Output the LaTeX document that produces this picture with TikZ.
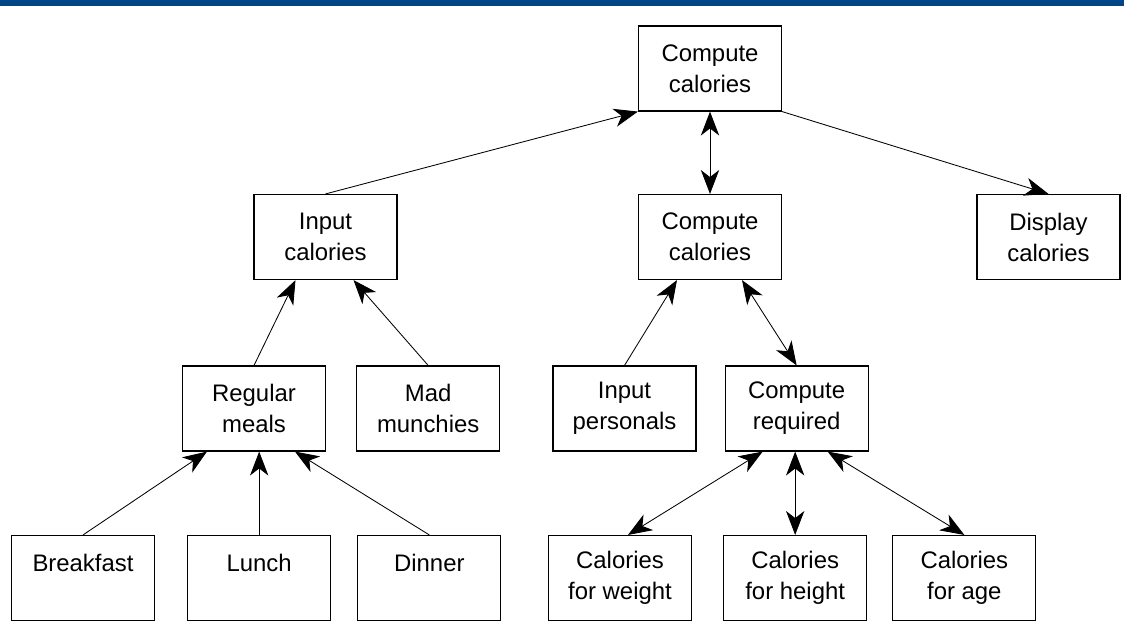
\documentclass[tikz,border=0pt]{standalone}
\usepackage{fontspec}
\setmainfont{Liberation Sans}
\usepackage{tikz}
\usetikzlibrary{
	positioning,
	arrows.meta
}
\definecolor{barblue}{RGB}{0,70,135}

\begin{document}
\begin{tikzpicture}[
				x=0.025cm, y=-0.025cm,
				block/.style={
					draw,
					rectangle,
					line width=0.8pt,
					minimum width=3.575cm,
					minimum height=2.125cm,
					inner sep=0pt,
					align=center,
					font=\fontsize{17}{22}\selectfont
				},
				arrow/.style={
					-{Stealth[length=17pt,width=13pt,inset=5pt]},
					line width=0.6pt
				},
				twoway/.style={
					{Stealth[length=17pt,width=13pt,inset=5pt]}-{Stealth[length=17pt,width=13pt,inset=5pt]},
					line width=0.6pt
				}
				]
				
				\useasboundingbox (0,0) rectangle (1124,621);
				\fill[barblue] (0,0) rectangle (1124,6);
				
				% top level
				\node[block] (cc) at (710,68.5) {
					Compute\\
					calories
				};
				
				% second level
				\node[block] (ic) at (325.5,237) {
					Input\\
					calories
				};
				
				\node[block] (mc) at (710,237) {
					Compute\\
					calories
				};
				
				\node[block] (dc) at (1048.5,237) {
					Display\\
					calories
				};
				
				% third level
				\node[block] (rm) at (254,408.5) {
					Regular\\
					meals
				};
				
				\node[block, right=0.75cm of rm] (mm) {
					Mad\\
					munchies
				};
				
				\node[block] (ip) at (624.5,408.5) {
					Input\\
					personals
				};
				
				\node[block, right=0.7cm of ip] (cr) {
					Compute\\
					required
				};
				
				% bottom level
				\node[block] (bf) at (83,578) {
					Breakfast\\
					~
				};
				
				\node[block, right=0.8cm of bf] (lu) {
					Lunch\\
					~
				};
				
				\node[block, right=0.65cm of lu] (di) {
					Dinner\\
					~
				};
				
				\node[block] (cw) at (620,578) {
					Calories\\
					for weight
				};
				
				\node[block, right=0.775cm of cw] (ch) {
					Calories\\
					for height
				};
				
				\node[block, right=0.625cm of ch] (ca) {
					Calories\\
					for age
				};
				
				\draw[arrow] (ic.north) -- (cc.south west);
				\draw[twoway] (cc.south) -- (mc.north);
				\draw[arrow] (cc.south east) -- (dc.north);
				
				\draw[arrow] (rm.north) -- ([xshift=-0.75cm]ic.south);
				\draw[arrow] (mm.north) -- ([xshift=0.7cm]ic.south);
				\draw[arrow] (ip.north) -- ([xshift=-0.825cm]mc.south);
				\draw[twoway] ([xshift=0.8cm]mc.south) -- (cr.north);
				
				\draw[arrow] (bf.north) -- ([xshift=-1.175cm]rm.south);
				\draw[arrow] (lu.north) -- (lu.north |- rm.south);
				\draw[arrow] (di.north) -- ([xshift=1.025cm]rm.south);
				
				\draw[twoway] ([xshift=-0.85cm]cr.south) -- ([xshift=0.2cm]cw.north);
				\draw[twoway] (ch.north |- cr.south) -- (ch.north);
				\draw[twoway] ([xshift=0.775cm]cr.south) -- (ca.north);
				
			\end{tikzpicture}
\end{document}
